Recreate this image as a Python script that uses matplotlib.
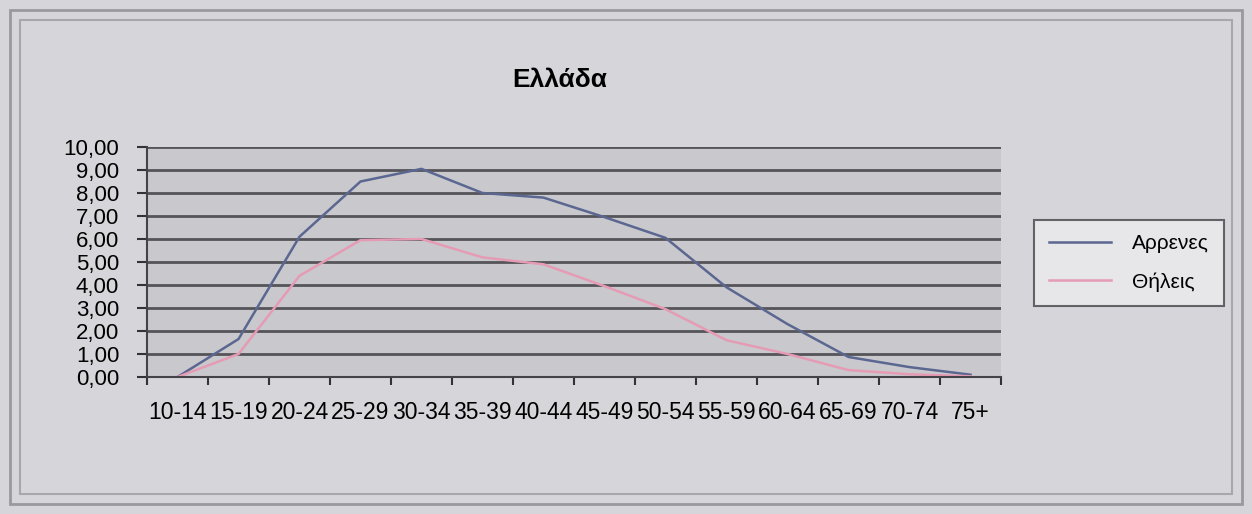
import matplotlib.pyplot as plt
from matplotlib.patches import Rectangle

plt.rcParams['font.family'] = ['Liberation Sans', 'DejaVu Sans']

# age groups and values
age_groups = ['10-14', '15-19', '20-24', '25-29', '30-34', '35-39', '40-44',
              '45-49', '50-54', '55-59', '60-64', '65-69', '70-74', '75+']
males = [0.0, 1.65, 6.1, 8.5, 9.05, 8.0, 7.8, 6.95, 6.05, 3.9, 2.3, 0.87, 0.43, 0.1]
females = [0.0, 1.0, 4.4, 5.95, 6.0, 5.2, 4.9, 3.95, 2.95, 1.6, 1.0, 0.3, 0.12, 0.03]

fig = plt.figure(figsize=(12.52, 5.14), dpi=100)
fig.patch.set_facecolor('#d6d6da')

# double frame around the chart
fig.patches.append(Rectangle((10 / 1252, 10 / 514), 1232 / 1252, 494 / 514,
                             transform=fig.transFigure, fill=False,
                             edgecolor='#9a9a9e', linewidth=2))
fig.patches.append(Rectangle((20 / 1252, 20 / 514), 1212 / 1252, 474 / 514,
                             transform=fig.transFigure, fill=False,
                             edgecolor='#a8a8ac', linewidth=1.5))

ax = fig.add_axes([147 / 1252, 1 - 377 / 514, 854 / 1252, 230 / 514])
ax.set_facecolor('#c9c9cd')

x = range(len(age_groups))
ax.plot(x, males, color='#5b6791', linewidth=1.8, label='Αρρενες')
ax.plot(x, females, color='#e59bb4', linewidth=1.8, label='Θήλεις')

ax.set_xlim(-0.5, len(age_groups) - 0.5)
ax.set_ylim(0, 10)
ax.set_yticks(range(11))
ax.set_yticklabels([f'{v},00' for v in range(11)], fontsize=16)
ax.yaxis.grid(True, color='#555559', linewidth=2)
ax.set_axisbelow(True)

ax.set_xticks([i + 0.5 for i in range(len(age_groups) - 1)] + [-0.5, len(age_groups) - 0.5])
ax.set_xticklabels([])
ax.set_xticks(list(x), minor=True)
ax.set_xticklabels(age_groups, minor=True, fontsize=16.5)
ax.tick_params(axis='x', which='minor', length=0, pad=17)
ax.tick_params(axis='x', which='major', length=6, width=1.5, color='#333333', direction='out')
ax.tick_params(axis='y', length=7, width=1.5, color='#333333', pad=13)

for side in ['top', 'right']:
    ax.spines[side].set_visible(False)
ax.spines['left'].set_color('#444448')
ax.spines['left'].set_linewidth(1.5)
ax.spines['bottom'].set_color('#444448')
ax.spines['bottom'].set_linewidth(1.5)

fig.text(560 / 1252, 1 - 80 / 514, 'Ελλάδα', fontsize=19, fontweight='bold',
         ha='center', va='center')

leg = fig.legend(loc='center', bbox_to_anchor=(1129 / 1252, 1 - 263 / 514),
                 fontsize=15, frameon=True, fancybox=False, handlelength=3.0,
                 borderpad=0.7, labelspacing=0.9, handletextpad=1.0)
leg.get_frame().set_edgecolor('#444448')
leg.get_frame().set_linewidth(1.5)
leg.get_frame().set_facecolor('#ececee')

fig.savefig('out.png', dpi=100, facecolor=fig.get_facecolor())
